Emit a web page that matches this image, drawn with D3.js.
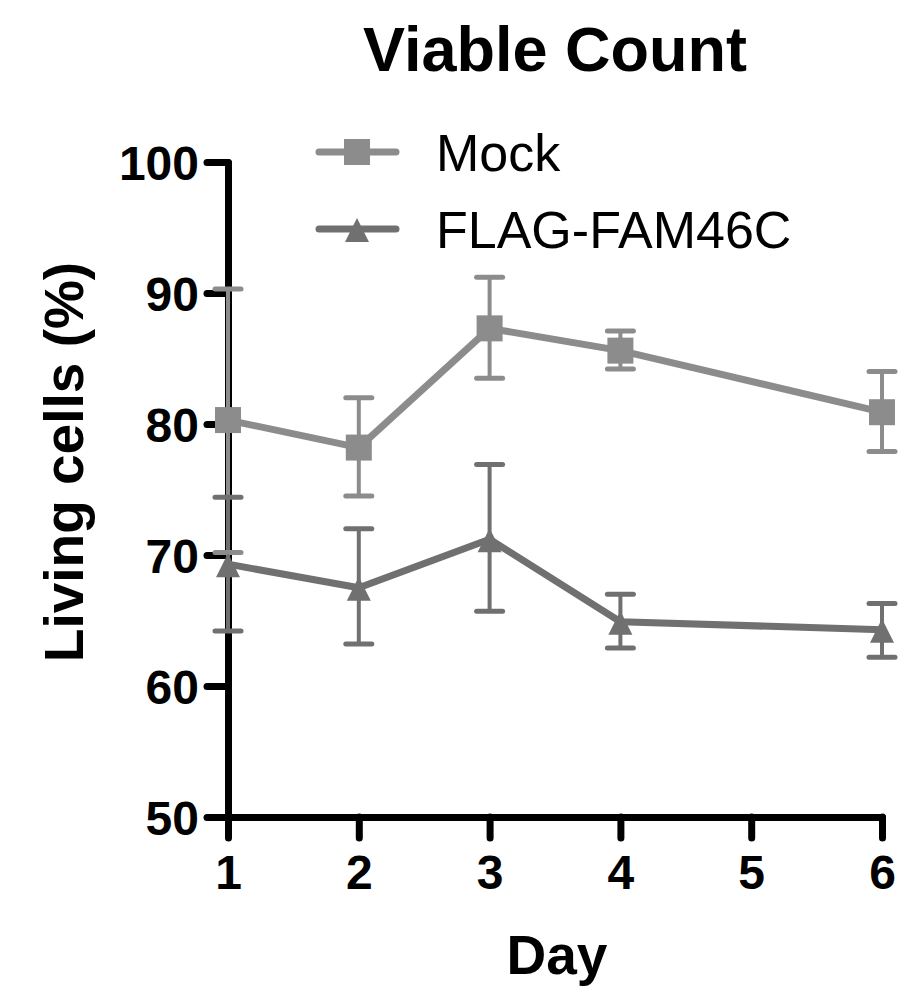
<!DOCTYPE html>
<html>
<head>
<meta charset="utf-8">
<script src="https://cdn.jsdelivr.net/npm/d3@7"></script>
<style>
    body { margin: 0; background: #fff; }
    text { font-family: "Liberation Sans", Arial, sans-serif; fill: #000; }
</style>
</head>
<body>
<div id="chart"></div>
<script>
// data
var days = [1, 2, 3, 4, 6];
var xTicks = [1, 2, 3, 4, 5, 6];
var yTicks = [50, 60, 70, 80, 90, 100];

var seriesNames = ["Mock", "FLAG-FAM46C"];
var mockMean = [80.3, 78.2, 87.3, 85.6, 80.9];
var mockUpper = [90.3, 82.0, 91.2, 87.1, 84.0];
var mockLower = [70.2, 74.5, 83.5, 84.2, 77.9];
var flagMean = [69.3, 67.5, 71.2, 64.9, 64.3];
var flagUpper = [74.4, 72.0, 76.9, 67.0, 66.3];
var flagLower = [64.2, 63.2, 65.7, 62.9, 62.2];

var colors = ["#8c8c8c", "#707070"];
var shapes = ["square", "triangle"];

var series = [
    { name: seriesNames[0], mean: mockMean, hi: mockUpper, lo: mockLower },
    { name: seriesNames[1], mean: flagMean, hi: flagUpper, lo: flagLower }
];
series.forEach(function(s, i){
    s.color = colors[i];
    s.shape = shapes[i];
    s.points = days.map(function(d, j){
        return { day: d, mean: s.mean[j], hi: s.hi[j], lo: s.lo[j] };
    });
});

var width = 898, height = 989;

var svg = d3.select("#chart").append("svg")
    .attr("width", width)
    .attr("height", height);

var x = d3.scaleLinear().domain([1, 6]).range([228, 882]);
var y = d3.scaleLinear().domain([50, 100]).range([817, 162]);

// axes
var yAxis = d3.axisLeft(y).tickValues(yTicks).tickFormat(d3.format("d"))
    .tickSize(21).tickSizeOuter(0).tickPadding(8);
var xAxis = d3.axisBottom(x).tickValues(xTicks).tickFormat(d3.format("d"))
    .tickSize(21).tickSizeOuter(0).tickPadding(16);

var gy = svg.append("g").attr("class", "y-axis").attr("transform", "translate(228,0)").call(yAxis);
var gx = svg.append("g").attr("class", "x-axis").attr("transform", "translate(0,817)").call(xAxis);

[gy, gx].forEach(function(g){
    g.select(".domain").attr("stroke", "#000").attr("stroke-width", 7)
        .attr("stroke-linecap", "round").attr("stroke-linejoin", "round");
    g.selectAll(".tick line").attr("stroke", "#000").attr("stroke-width", 7)
        .attr("stroke-linecap", "round");
    g.selectAll(".tick text")
        .style("font-family", "'Liberation Sans', Arial, sans-serif")
        .style("font-weight", "bold")
        .style("font-size", "48px")
        .attr("fill", "#000");
});
gy.selectAll(".tick text").attr("dy", "0.36em");
gx.selectAll(".tick text").attr("dy", "0.72em");

// titles
svg.append("text")
    .attr("x", 555).attr("y", 71)
    .attr("text-anchor", "middle")
    .style("font-size", "63px").style("font-weight", "bold")
    .text("Viable Count");

svg.append("text")
    .attr("x", 557).attr("y", 974)
    .attr("text-anchor", "middle")
    .style("font-size", "55px").style("font-weight", "bold")
    .text("Day");

svg.append("text")
    .attr("transform", "translate(83,462) rotate(-90)")
    .attr("text-anchor", "middle")
    .style("font-size", "55px").style("font-weight", "bold")
    .text("Living cells (%)");

function marker(sel, shape){
    if (shape == "square") {
        sel.append("rect")
            .attr("x", -13).attr("y", -13)
            .attr("width", 26).attr("height", 26);
    } else {
        sel.append("path").attr("d", "M0,-11L12,13L-12,13Z");
    }
}

var line = d3.line()
    .x(function(d){ return x(d.day); })
    .y(function(d){ return y(d.mean); });

var plot = svg.append("g").attr("class", "plot");

// lines
series.forEach(function(s){
    plot.append("path")
        .datum(s.points)
        .attr("fill", "none")
        .attr("stroke", s.color)
        .attr("stroke-width", 7)
        .attr("stroke-linejoin", "round")
        .attr("d", line);
});

// error bar stems
series.forEach(function(s){
    plot.selectAll(null).data(s.points).enter().append("line")
        .attr("x1", function(d){ return x(d.day); })
        .attr("x2", function(d){ return x(d.day); })
        .attr("y1", function(d){ return y(d.hi); })
        .attr("y2", function(d){ return y(d.lo); })
        .attr("stroke", s.color)
        .attr("stroke-width", 4);
});

// caps
series.forEach(function(s){
    ["hi", "lo"].forEach(function(k){
        plot.selectAll(null).data(s.points).enter().append("line")
            .attr("x1", function(d){ return x(d.day) - 13; })
            .attr("x2", function(d){ return x(d.day) + 13; })
            .attr("y1", function(d){ return y(d[k]); })
            .attr("y2", function(d){ return y(d[k]); })
            .attr("stroke", s.color)
            .attr("stroke-width", 5)
            .attr("stroke-linecap", "round");
    });
});

// markers
series.forEach(function(s){
    plot.selectAll(null).data(s.points).enter().append("g")
        .attr("transform", function(d){ return "translate(" + x(d.day) + "," + y(d.mean) + ")"; })
        .attr("fill", s.color)
        .each(function(){ marker(d3.select(this), s.shape); });
});

// legend
var legend = svg.append("g").attr("class", "legend");
series.forEach(function(s, i){
    var ly = 152 + i * 77;
    var g = legend.append("g").attr("transform", "translate(0," + ly + ")");
    g.append("line")
        .attr("x1", 319).attr("x2", 396)
        .attr("stroke", s.color).attr("stroke-width", 7)
        .attr("stroke-linecap", "round");
    var m = g.append("g").attr("transform", "translate(357,0)").attr("fill", s.color);
    marker(m, s.shape);
    g.append("text")
        .attr("x", 436).attr("y", 19)
        .style("font-size", "52px")
        .text(s.name);
});
</script>
</body>
</html>
